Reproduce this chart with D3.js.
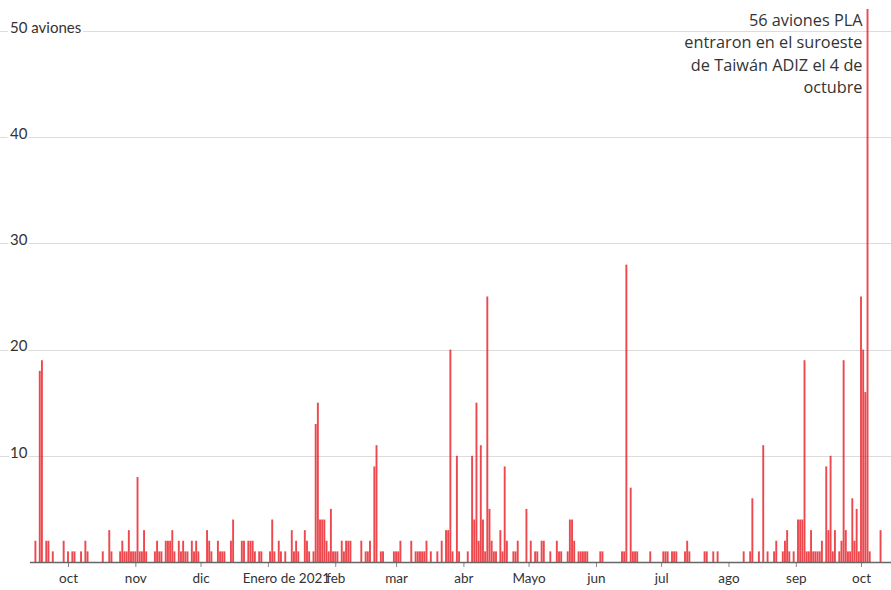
<!DOCTYPE html>
<html><head><meta charset="utf-8">
<script src="https://cdn.jsdelivr.net/npm/d3@7"></script>
<style>
html,body{margin:0;padding:0;background:#fff;}
svg{display:block;font-family:Lato,"Open Sans",sans-serif;}
</style></head>
<body>
<svg id="chart" width="891" height="590"></svg>
<script>
// ---- data ----
const dates = [
"2020-09-16","2020-09-18","2020-09-19","2020-09-21","2020-09-22","2020-09-24","2020-09-29",
"2020-10-01","2020-10-03","2020-10-04","2020-10-07","2020-10-09","2020-10-10","2020-10-17","2020-10-20","2020-10-21",
"2020-10-25","2020-10-26","2020-10-27","2020-10-28","2020-10-29","2020-10-30","2020-10-31",
"2020-11-01","2020-11-02","2020-11-03","2020-11-04","2020-11-05","2020-11-06","2020-11-10","2020-11-11","2020-11-12",
"2020-11-13","2020-11-15","2020-11-16","2020-11-17","2020-11-18","2020-11-19","2020-11-21","2020-11-22","2020-11-23",
"2020-11-24","2020-11-25","2020-11-27","2020-11-28","2020-11-29","2020-11-30",
"2020-12-04","2020-12-05","2020-12-06","2020-12-09","2020-12-10","2020-12-11","2020-12-12","2020-12-15","2020-12-16",
"2020-12-20","2020-12-21","2020-12-23","2020-12-24","2020-12-25","2020-12-26","2020-12-28","2020-12-29",
"2021-01-02","2021-01-03","2021-01-04","2021-01-06","2021-01-07","2021-01-09","2021-01-12","2021-01-13","2021-01-14",
"2021-01-15","2021-01-18","2021-01-19","2021-01-20","2021-01-22","2021-01-23","2021-01-24","2021-01-25","2021-01-26",
"2021-01-27","2021-01-28","2021-01-29","2021-01-30","2021-01-31",
"2021-02-01","2021-02-02","2021-02-04","2021-02-05","2021-02-06","2021-02-07","2021-02-08","2021-02-13","2021-02-15",
"2021-02-16","2021-02-17","2021-02-19","2021-02-20","2021-02-22","2021-02-23","2021-02-28",
"2021-03-01","2021-03-02","2021-03-03","2021-03-08","2021-03-10","2021-03-11","2021-03-12","2021-03-13","2021-03-14",
"2021-03-15","2021-03-17","2021-03-20","2021-03-22","2021-03-24","2021-03-25","2021-03-26","2021-03-27","2021-03-29","2021-03-30",
"2021-04-03","2021-04-05","2021-04-06","2021-04-07","2021-04-08","2021-04-09","2021-04-10","2021-04-11","2021-04-12",
"2021-04-13","2021-04-14","2021-04-15","2021-04-16","2021-04-18","2021-04-19","2021-04-20","2021-04-21","2021-04-24",
"2021-04-25","2021-04-26","2021-04-30",
"2021-05-02","2021-05-04","2021-05-05","2021-05-07","2021-05-08","2021-05-11","2021-05-14","2021-05-15","2021-05-16",
"2021-05-19","2021-05-20","2021-05-21","2021-05-22","2021-05-24","2021-05-25","2021-05-26","2021-05-27","2021-05-28",
"2021-06-03","2021-06-04","2021-06-13","2021-06-14","2021-06-15","2021-06-17","2021-06-18","2021-06-19","2021-06-20","2021-06-26",
"2021-07-02","2021-07-03","2021-07-04","2021-07-06","2021-07-07","2021-07-08","2021-07-12","2021-07-13","2021-07-14",
"2021-07-21","2021-07-22","2021-07-25","2021-07-27",
"2021-08-08","2021-08-11","2021-08-12","2021-08-15","2021-08-17","2021-08-19","2021-08-22","2021-08-23","2021-08-26",
"2021-08-27","2021-08-28","2021-08-29","2021-08-31",
"2021-09-02","2021-09-03","2021-09-04","2021-09-05","2021-09-06","2021-09-07","2021-09-08","2021-09-09","2021-09-10",
"2021-09-11","2021-09-12","2021-09-13","2021-09-15","2021-09-16","2021-09-17","2021-09-18","2021-09-19","2021-09-21",
"2021-09-22","2021-09-23","2021-09-24","2021-09-25","2021-09-26","2021-09-27","2021-09-28","2021-09-29","2021-09-30",
"2021-10-01","2021-10-02","2021-10-03","2021-10-04","2021-10-05","2021-10-10"
];
const values = [
2,18,19,2,2,1,2,
1,1,1,1,2,1,1,3,1,
1,2,1,1,3,1,1,
1,8,1,1,3,1,1,2,1,
1,2,2,2,3,1,2,1,2,
1,1,2,1,2,1,
3,2,1,2,1,1,1,2,4,
2,2,2,2,2,1,1,1,
1,4,1,2,1,1,3,1,2,
1,3,2,1,1,13,15,4,4,
4,2,1,5,1,
1,1,2,1,2,2,2,2,1,
1,2,9,11,1,1,1,
1,1,2,2,1,1,1,1,1,
2,1,1,2,3,3,20,1,10,1,
1,10,4,15,2,11,4,1,25,
5,2,1,1,3,1,9,2,1,
1,2,5,
2,1,1,2,2,1,2,1,1,
1,4,4,2,1,1,1,1,1,
1,1,1,1,28,7,1,1,1,1,
1,1,1,1,1,1,1,2,1,
1,1,1,1,
1,1,6,1,11,1,1,2,1,
2,3,1,1,
4,4,4,19,1,1,3,1,1,
1,1,2,9,3,10,1,3,1,
2,19,3,1,1,6,2,5,1,
25,20,16,56,1,3
];
const yTicks = [10, 20, 30, 40, 50];
const yTickLabels = ["10", "20", "30", "40", "50 aviones"];
const xTickDates = ["2020-10-01","2020-11-01","2020-12-01","2021-01-01","2021-02-01","2021-03-01",
  "2021-04-01","2021-05-01","2021-06-01","2021-07-01","2021-08-01","2021-09-01","2021-10-01"];
const xTickLabels = ["oct","nov","dic","Enero de 2021","feb","mar","abr","Mayo","jun","jul","ago","sep","oct"];
const annotationLines = ["56 aviones PLA", "entraron en el suroeste", "de Taiwán ADIZ el 4 de", "octubre"];

// ---- layout ----
const W = 891, H = 590;
const baseY = 562, plotTop = 9;
const svg = d3.select("#chart");
const parse = d3.utcParse("%Y-%m-%d");

const x = d3.scaleUtc()
  .domain([parse("2020-10-01"), parse("2021-10-01")])
  .range([68, 861]);
const y = d3.scaleLinear().domain([0, 50]).range([baseY, 31]);

// gridlines
svg.append("g").selectAll("line").data(yTicks).join("line")
  .attr("x1", 0).attr("x2", W)
  .attr("y1", d => Math.round(y(d)) + 0.5).attr("y2", d => Math.round(y(d)) + 0.5)
  .attr("stroke", "#dcdcdc").attr("stroke-width", 1);

// y labels
svg.append("g").selectAll("text").data(yTicks).join("text")
  .attr("x", 10).attr("y", d => y(d) - 2)
  .attr("dominant-baseline", "middle")
  .attr("font-size", 15).attr("fill", "#333")
  .attr("stroke", "#fff").attr("stroke-width", 5).attr("paint-order", "stroke")
  .text((d, i) => yTickLabels[i]);

// clip
svg.append("clipPath").attr("id", "plotclip").append("rect")
  .attr("x", 0).attr("y", plotTop).attr("width", W).attr("height", baseY - plotTop);

// bars
const data = dates.map((d, i) => ({ date: parse(d), value: values[i] }));
const barW = 1.9;
svg.append("g").attr("clip-path", "url(#plotclip)")
  .selectAll("rect").data(data).join("rect")
  .attr("x", d => x(d.date) - barW / 2)
  .attr("y", d => y(d.value))
  .attr("width", barW)
  .attr("height", d => baseY - y(d.value))
  .attr("fill", "#e8141c").attr("fill-opacity", 0.78);

// x axis
const axis = d3.axisBottom(x)
  .tickValues(xTickDates.map(parse))
  .tickSize(5).tickPadding(6)
  .tickFormat((d, i) => xTickLabels[i]);
const gx = svg.append("g").attr("transform", `translate(0,${baseY})`).call(axis);
gx.select(".domain").remove();
gx.selectAll(".tick line").attr("stroke", "#888");
gx.selectAll(".tick text").attr("font-size", 13.5).attr("fill", "#333")
  .attr("font-family", "Lato, 'Open Sans', sans-serif")
  .attr("dx", (d, i) => xTickLabels[i].length > 5 ? 18 : 0);
svg.append("line").attr("x1", 30).attr("x2", W)
  .attr("y1", baseY + 0.5).attr("y2", baseY + 0.5)
  .attr("stroke", "#666").attr("stroke-width", 1.3);

// annotation
const peak = data.reduce((a, b) => (b.value > a.value ? b : a));
svg.append("text")
  .attr("x", x(peak.date) - 5).attr("y", 20)
  .attr("text-anchor", "end").attr("font-size", 16.3).attr("fill", "#333")
  .attr("font-family", "'Open Sans', Lato, sans-serif")
  .selectAll("tspan").data(annotationLines).join("tspan")
  .attr("x", x(peak.date) - 5)
  .attr("dy", (d, i) => i === 0 ? "0.35em" : "22.5")
  .text(d => d);
</script>
</body></html>
